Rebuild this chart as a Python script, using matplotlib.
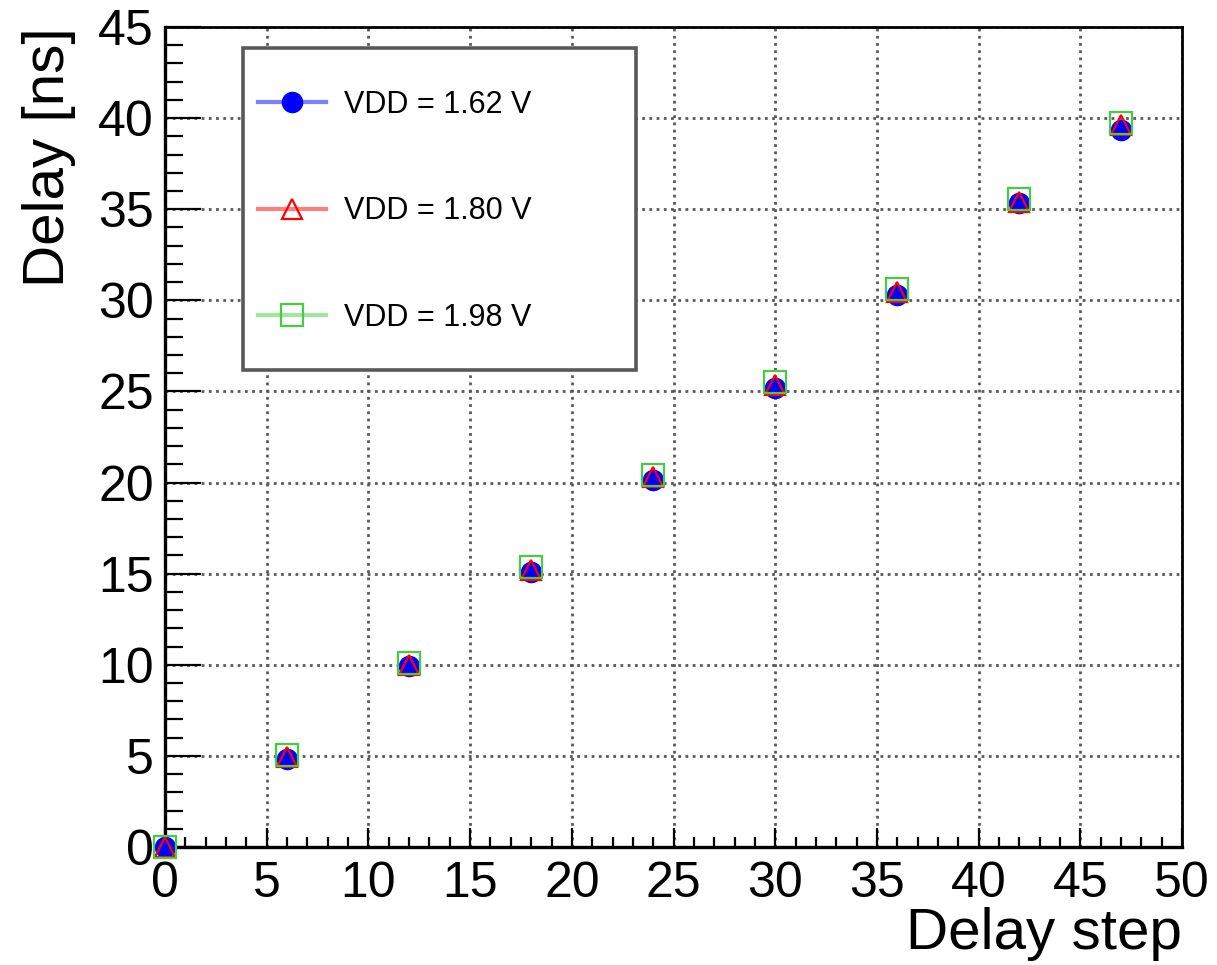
import numpy as np
import matplotlib
matplotlib.use("Agg")
import matplotlib.pyplot as plt
from matplotlib.lines import Line2D
from matplotlib.patches import Rectangle
from matplotlib.ticker import MultipleLocator

# delay step settings and measured delay per supply voltage
steps = [0, 6, 12, 18, 24, 30, 36, 42, 47]
delay_162 = [0.0, 4.85, 9.95, 15.1, 20.15, 25.2, 30.3, 35.35, 39.35]
delay_180 = [0.0, 4.95, 10.0, 15.2, 20.3, 25.35, 30.45, 35.4, 39.6]
delay_198 = [0.0, 5.05, 10.1, 15.35, 20.4, 25.5, 30.6, 35.55, 39.75]
labels = ["VDD = 1.62 V", "VDD = 1.80 V", "VDD = 1.98 V"]

plt.rcParams['font.family'] = ['Liberation Sans', 'DejaVu Sans']

fig = plt.figure(figsize=(12.17, 9.65), dpi=100)
ax = fig.add_axes([0.1356, 0.1223, 0.8357, 0.8497])

blue = (0.0, 0.0, 1.0)
red = (1.0, 0.0, 0.0)
green = (0.27, 0.8, 0.27)

ax.plot(steps, delay_162, linestyle='none', marker='o', markersize=14.5,
        markerfacecolor=blue, markeredgecolor=blue, zorder=3, clip_on=False)
ax.plot(steps, delay_180, linestyle='none', marker='^', markersize=15,
        markerfacecolor='none', markeredgecolor=red, markeredgewidth=1.6,
        zorder=4, clip_on=False)
ax.plot(steps, delay_198, linestyle='none', marker='s', markersize=15.5,
        markerfacecolor='none', markeredgecolor=green, markeredgewidth=1.6,
        zorder=5, clip_on=False)

ax.set_xlim(0, 50)
ax.set_ylim(0, 45)
ax.xaxis.set_major_locator(MultipleLocator(5))
ax.xaxis.set_minor_locator(MultipleLocator(1))
ax.yaxis.set_major_locator(MultipleLocator(5))
ax.yaxis.set_minor_locator(MultipleLocator(1))

ax.grid(True, which='major', color='0.35', linestyle=(0, (1.0, 1.6)), linewidth=2.0, zorder=1)
ax.set_axisbelow(True)

ax.tick_params(axis='x', which='major', direction='in', length=14, width=1.6,
               labelsize=36, pad=10, top=False)
ax.tick_params(axis='x', which='minor', direction='in', length=7, width=1.6, top=False)
ax.tick_params(axis='y', which='major', direction='in', length=26, width=1.6,
               labelsize=36, pad=8, right=False)
ax.tick_params(axis='y', which='minor', direction='in', length=13, width=1.6, right=False)

for side in ['left', 'bottom']:
    ax.spines[side].set_linewidth(2.4)
for side in ['top', 'right']:
    ax.spines[side].set_linewidth(2.0)

ax.set_xlabel("Delay step", fontsize=42, loc='right', labelpad=0)
ax.set_ylabel("Delay [ns]", fontsize=42, loc='top', labelpad=16)

# legend box
box = Rectangle((0.0767, 0.582), 0.386, 0.392, transform=ax.transAxes,
                facecolor='white', edgecolor='0.35', linewidth=2.6, zorder=6)
ax.add_patch(box)

handles = [
    Line2D([], [], color=blue + (0.5,), linewidth=3, marker='o', markersize=14.5,
           markerfacecolor=blue, markeredgecolor=blue),
    Line2D([], [], color=red + (0.5,), linewidth=3, marker='^', markersize=15,
           markerfacecolor='none', markeredgecolor=red, markeredgewidth=1.6),
    Line2D([], [], color=green + (0.5,), linewidth=3, marker='s', markersize=15.5,
           markerfacecolor='none', markeredgecolor=green, markeredgewidth=1.6),
]
leg = ax.legend(handles, labels, loc='upper left', bbox_to_anchor=(0.0767, 0.942),
                frameon=False, fontsize=22, handlelength=2.2, handletextpad=0.6,
                labelspacing=2.5, borderpad=0.5, borderaxespad=0)
leg.set_zorder(7)

fig.savefig("out.png", dpi=100)
